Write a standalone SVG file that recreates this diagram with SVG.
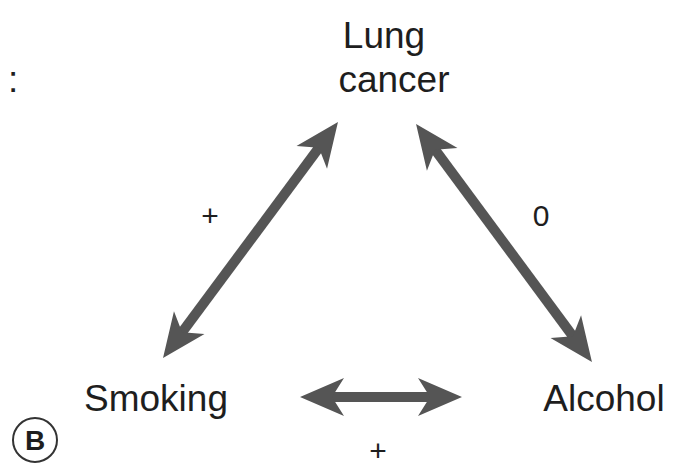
<svg xmlns="http://www.w3.org/2000/svg" width="683" height="476" viewBox="0 0 683 476">
<defs>
<style>
.t{font-family:"Liberation Sans",Arial,sans-serif;font-size:37px;fill:#1e1e1e;text-anchor:middle}
.s{font-family:"Liberation Sans",Arial,sans-serif;font-size:30px;fill:#1e1e1e;text-anchor:middle}
.c{stroke:#555;stroke-width:10;fill:none}
</style>
<marker id="ah" markerUnits="userSpaceOnUse" orient="auto-start-reverse" refX="-28" refY="0" markerWidth="60" markerHeight="60" overflow="visible">
<path d="M0,0 L-44,-19 L-32,0 L-44,19 Z" fill="#555"/>
</marker>
</defs>
<rect width="683" height="476" fill="#fff"/>
<text class="t" x="8" y="92" style="text-anchor:start">:</text>
<g id="lung"><text class="t" x="384" y="48">Lung</text><text class="t" x="394" y="92">cancer</text></g>
<g id="smoking"><text class="t" x="156" y="411">Smoking</text></g>
<g id="alcohol"><text class="t" x="604" y="411">Alcohol</text></g>
<g id="label-b"><circle cx="35" cy="440" r="22" fill="none" stroke="#333" stroke-width="2"/><text x="35" y="450" style="font-family:'Liberation Sans',Arial,sans-serif;font-size:28px;font-weight:bold;fill:#1e1e1e;text-anchor:middle">B</text></g>
<g id="connectors">
<line class="c" x1="321.3" y1="144.5" x2="179.7" y2="335.5" marker-start="url(#ah)" marker-end="url(#ah)"/>
<line class="c" x1="432.7" y1="146.5" x2="575.3" y2="339.5" marker-start="url(#ah)" marker-end="url(#ah)"/>
<line class="c" x1="328" y1="397" x2="434" y2="397" marker-start="url(#ah)" marker-end="url(#ah)"/>
<text class="s" x="210" y="226">+</text>
<text class="s" x="541" y="226">0</text>
<text class="s" x="378" y="461">+</text>
</g>
</svg>
